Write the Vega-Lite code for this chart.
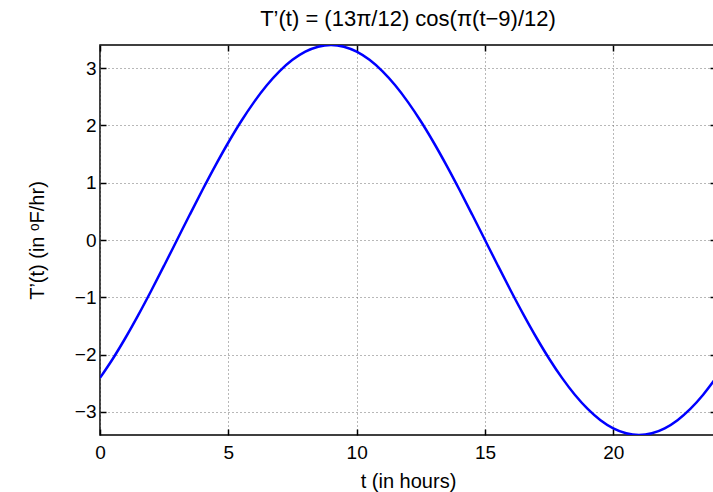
{
  "$schema": "https://vega.github.io/schema/vega-lite/v6.json",
  "autosize": "none",
  "width": 616,
  "height": 390,
  "padding": {"left": 100, "top": 45, "right": 0, "bottom": 57},
  "background": "white",
  "config": {
    "view": {"stroke": "black", "strokeWidth": 1.5},
    "font": "Liberation Sans",
    "axis": {"labelFont": "Liberation Sans", "titleFont": "Liberation Sans", "labelColor": "black", "titleColor": "black", "titleFontWeight": "normal"}
  },
  "title": {"text": "T’(t) = (13π/12) cos(π(t−9)/12)", "font": "Liberation Sans", "fontSize": 22, "fontWeight": "normal", "color": "black", "offset": 13},
  "data": {"values": [
    {"t": 0, "v": -2.4066}, {"t": 0.5, "v": -2.0720}, {"t": 1, "v": -1.7017}, {"t": 1.5, "v": -1.3024},
    {"t": 2, "v": -0.8809}, {"t": 2.5, "v": -0.4442}, {"t": 3, "v": 0}, {"t": 3.5, "v": 0.4442},
    {"t": 4, "v": 0.8809}, {"t": 4.5, "v": 1.3024}, {"t": 5, "v": 1.7017}, {"t": 5.5, "v": 2.0720},
    {"t": 6, "v": 2.4066}, {"t": 6.5, "v": 2.7002}, {"t": 7, "v": 2.9474}, {"t": 7.5, "v": 3.1443},
    {"t": 8, "v": 3.2874}, {"t": 8.5, "v": 3.3742}, {"t": 9, "v": 3.4034}, {"t": 9.5, "v": 3.3742},
    {"t": 10, "v": 3.2874}, {"t": 10.5, "v": 3.1443}, {"t": 11, "v": 2.9474}, {"t": 11.5, "v": 2.7002},
    {"t": 12, "v": 2.4066}, {"t": 12.5, "v": 2.0720}, {"t": 13, "v": 1.7017}, {"t": 13.5, "v": 1.3024},
    {"t": 14, "v": 0.8809}, {"t": 14.5, "v": 0.4442}, {"t": 15, "v": 0}, {"t": 15.5, "v": -0.4442},
    {"t": 16, "v": -0.8809}, {"t": 16.5, "v": -1.3024}, {"t": 17, "v": -1.7017}, {"t": 17.5, "v": -2.0720},
    {"t": 18, "v": -2.4066}, {"t": 18.5, "v": -2.7002}, {"t": 19, "v": -2.9474}, {"t": 19.5, "v": -3.1443},
    {"t": 20, "v": -3.2874}, {"t": 20.5, "v": -3.3742}, {"t": 21, "v": -3.4034}, {"t": 21.5, "v": -3.3742},
    {"t": 22, "v": -3.2874}, {"t": 22.5, "v": -3.1443}, {"t": 23, "v": -2.9474}, {"t": 23.5, "v": -2.7002},
    {"t": 24, "v": -2.4066}
  ]},
  "layer": [
    {
      "mark": {"type": "line", "color": "#0000FF", "strokeWidth": 2.5, "interpolate": "monotone", "clip": true},
      "encoding": {
        "x": {"field": "t", "type": "quantitative", "scale": {"domain": [0, 24], "nice": false, "zero": false},
          "axis": {"orient": "bottom", "values": [0, 5, 10, 15, 20], "title": "t (in hours)", "titleFontSize": 20, "labelFontSize": 19, "titlePadding": 9, "labelFlush": false,
            "tickSize": -6, "tickColor": "black", "tickWidth": 1.5, "labelPadding": 14, "domain": false,
            "grid": true, "gridDash": [1, 3], "gridColor": "#707070", "gridWidth": 1}},
        "y": {"field": "v", "type": "quantitative", "scale": {"domain": [-3.4034, 3.4034], "nice": false, "zero": false},
          "axis": {"orient": "left", "values": [-3, -2, -1, 0, 1, 2, 3], "labelExpr": "replace(datum.label, '-', '−')", "title": "T’(t) (in ᵒF/hr)", "titleFontSize": 20, "labelFontSize": 19, "titlePadding": 27, "labelFlush": false,
            "tickSize": -6, "tickColor": "black", "tickWidth": 1.5, "labelPadding": 10, "domain": false,
            "grid": true, "gridDash": [1, 3], "gridColor": "#707070", "gridWidth": 1}}
      }
    },
    {
      "mark": {"type": "line", "opacity": 0},
      "encoding": {
        "x": {"field": "t", "type": "quantitative",
          "axis": {"orient": "top", "values": [0, 5, 10, 15, 20], "title": null, "labels": false, "tickSize": -6, "tickColor": "black", "tickWidth": 1.5, "domain": false, "grid": false}},
        "y": {"field": "v", "type": "quantitative",
          "axis": {"orient": "right", "values": [-3, -2, -1, 0, 1, 2, 3], "title": null, "labels": false, "tickSize": -6, "tickColor": "black", "tickWidth": 1.5, "domain": false, "grid": false}}
      }
    }
  ],
  "resolve": {"axis": {"x": "independent", "y": "independent"}}
}
